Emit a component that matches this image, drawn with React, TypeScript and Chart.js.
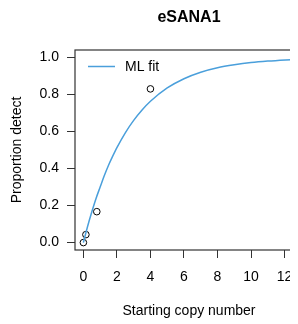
import React, { useEffect, useRef } from "react";
import { Chart, registerables } from "chart.js";

Chart.register(...registerables);

const chartTitle = "eSANA1";
const xAxisTitle = "Starting copy number";
const yAxisTitle = "Proportion detect";
const fitLabel = "ML fit";

// observed proportions
const obsX = [0, 0.15, 0.8, 4];
const obsY = [0, 0.043, 0.167, 0.83];

// ML fit curve
const fitX = [0, 0.25, 0.5, 0.75, 1, 1.25, 1.5, 1.75, 2, 2.5, 3, 3.5, 4, 5, 6, 7, 8, 9, 10, 11, 12.6];
const fitY = [0, 0.087, 0.165, 0.237, 0.3, 0.362, 0.418, 0.467, 0.513, 0.593, 0.66, 0.716, 0.763, 0.835, 0.885, 0.92, 0.944, 0.96, 0.972, 0.98, 0.989];

const xTicks = [0, 2, 4, 6, 8, 10, 12];
const yTicks = [0, 0.2, 0.4, 0.6, 0.8, 1.0];

const FONT = '"Liberation Sans", Arial, Helvetica, sans-serif';

export default function App() {
  const ref = useRef<HTMLCanvasElement | null>(null);
  useEffect(() => {
    if (!ref.current) return;
    const boxPlugin = {
      id: "rbox",
      afterDraw(chart: any) {
        const { ctx, chartArea } = chart;
        ctx.save();
        ctx.strokeStyle = "#333";
        ctx.lineWidth = 1.2;
        ctx.strokeRect(chartArea.left, chartArea.top, chartArea.right - chartArea.left, chartArea.bottom - chartArea.top);
        // legend
        const ds = chart.data.datasets[0];
        const lx = chartArea.left + 13;
        const ly = chartArea.top + 16.5;
        ctx.strokeStyle = ds.borderColor;
        ctx.lineWidth = 1.5;
        ctx.beginPath();
        ctx.moveTo(lx, ly);
        ctx.lineTo(lx + 27, ly);
        ctx.stroke();
        ctx.fillStyle = "#000";
        ctx.font = `14px ${FONT}`;
        ctx.textBaseline = "middle";
        ctx.textAlign = "left";
        ctx.fillText(ds.label, lx + 37, ly + 0.5);
        ctx.restore();
      },
    };
    const chart = new Chart(ref.current, {
      type: "line",
      data: {
        datasets: [
          {
            label: fitLabel,
            data: fitX.map((x, i) => ({ x, y: fitY[i] })),
            borderColor: "#4A9FDB",
            borderWidth: 1.5,
            pointRadius: 0,
            cubicInterpolationMode: "monotone",
            fill: false,
          },
          {
            label: "observed",
            type: "scatter",
            data: obsX.map((x, i) => ({ x, y: obsY[i] })),
            borderColor: "#000",
            backgroundColor: "rgba(0,0,0,0)",
            borderWidth: 1,
            pointRadius: 3.3,
            pointStyle: "circle",
          } as any,
        ],
      },
      options: {
        animation: false,
        responsive: false,
        layout: { padding: { left: 0, right: 5, top: 0, bottom: 0 } },
        plugins: {
          legend: { display: false },
          tooltip: { enabled: false },
          title: {
            display: true,
            text: chartTitle,
            fullSize: false,
            color: "#000",
            font: { family: FONT, size: 16, weight: "bold" },
            padding: { top: 0, bottom: 22.8 },
          },
        },
        scales: {
          x: {
            type: "linear",
            min: -0.5,
            max: 13.1,
            afterBuildTicks: (s: any) => {
              s.ticks = xTicks.map((v) => ({ value: v }));
            },
            afterFit: (s: any) => {
              s.height = 74;
            },
            grid: { drawOnChartArea: false, drawTicks: true, tickLength: 8, color: "#333", tickColor: "#333" },
            border: { display: false },
            ticks: { color: "#000", font: { family: FONT, size: 14 }, padding: 11, maxRotation: 0, autoSkip: false },
            title: { display: true, text: xAxisTitle, color: "#000", font: { family: FONT, size: 14 }, padding: { top: 0, bottom: 4.6 } },
          },
          y: {
            type: "linear",
            min: -0.04,
            max: 1.04,
            afterBuildTicks: (s: any) => {
              s.ticks = yTicks.map((v) => ({ value: v }));
            },
            afterFit: (s: any) => {
              s.width = 67;
            },
            grid: { drawOnChartArea: false, drawTicks: true, tickLength: 8, color: "#333", tickColor: "#333" },
            border: { display: false },
            ticks: { color: "#000", font: { family: FONT, size: 14 }, padding: 8, callback: (v: any) => Number(v).toFixed(1) },
            title: { display: true, text: yAxisTitle, color: "#000", font: { family: FONT, size: 14 }, padding: { top: 0.6, bottom: 0 } },
          },
        },
      },
      plugins: [boxPlugin],
    });
    return () => chart.destroy();
  }, []);
  return (
    <div style={{ width: 290, height: 316, overflow: "hidden" }}>
      <canvas ref={ref} width={300} height={316} style={{ width: 300, height: 316, display: "block" }} />
    </div>
  );
}
